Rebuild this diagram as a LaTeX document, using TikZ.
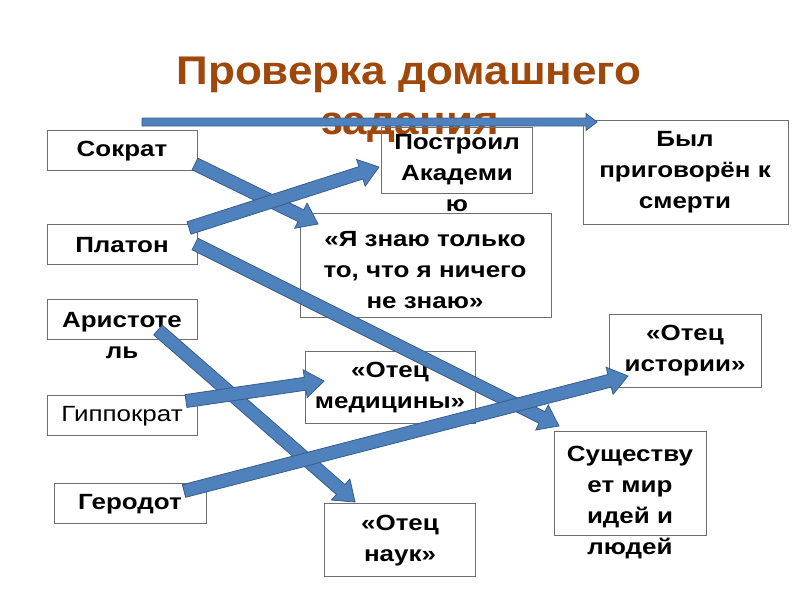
\documentclass[tikz,border=0pt]{standalone}
\usepackage{fontspec}
\setmainfont{Liberation Sans}
\newfontfamily\boxfont[FakeStretch=1.18]{Liberation Sans}
\newfontfamily\titlefont[FakeStretch=1.1]{Liberation Sans}
\usetikzlibrary{calc}
\definecolor{arrowfill}{RGB}{79,129,189}
\definecolor{arrowline}{RGB}{56,93,138}
\definecolor{titlec}{RGB}{160,72,12}
\definecolor{boxgray}{RGB}{110,110,110}
\newcommand\blockarrow[5]{%
  \path let \p1=(#1), \p2=(#2) in \pgfextra{%
    \pgfmathsetmacro\tmpang{atan2(\y2-\y1,\x2-\x1)}%
    \pgfmathsetmacro\tmplen{veclen(\x2-\x1,\y2-\y1)}%
    \xdef\BAang{\tmpang}\xdef\BAlen{\tmplen}};
  \begin{scope}[shift={(#1)},rotate=\BAang]
    \draw[barrow] (0,-#3) -- (\BAlen-#5,-#3) -- (\BAlen-#5,-#4) -- (\BAlen,0)
      -- (\BAlen-#5,#4) -- (\BAlen-#5,#3) -- (0,#3) -- cycle;
  \end{scope}}
\begin{document}
\begin{tikzpicture}[x=1pt,y=-1pt,
  barrow/.style={fill=arrowfill,draw=arrowline,line width=0.8pt,line join=miter},
  box/.style={draw=boxgray,line width=0.8pt,rectangle,inner sep=0pt},
  txt/.style={font=\boxfont\bfseries\fontsize{22}{31}\selectfont,align=center,inner sep=0pt},
  ttl/.style={font=\titlefont\bfseries\fontsize{40}{53}\selectfont,text=titlec,inner sep=0pt}]
\useasboundingbox (0,0) rectangle (800,600);
\fill[white] (0,0) rectangle (800,600);
% title
\node[ttl] (title1) at (409,75) {Проверка домашнего};
\node[ttl] (title2) at (410,128) {задания};
% boxes
\node[box,minimum width=150pt,minimum height=40pt] (sokrat) at (122,150) {};
\node[box,minimum width=150pt,minimum height=40pt] (platon) at (122,244) {};
\node[box,minimum width=150pt,minimum height=40pt] (arist) at (122,319) {};
\node[box,minimum width=150pt,minimum height=40pt] (gippo) at (122,415) {};
\node[box,minimum width=152pt,minimum height=40pt] (gerod) at (130,503) {};
\node[box,minimum width=151pt,minimum height=66pt] (postr) at (456.5,160) {};
\node[box,minimum width=205pt,minimum height=104pt] (byl) at (685.5,172) {};
\node[box,minimum width=251pt,minimum height=104pt] (znayu) at (425.5,265) {};
\node[box,minimum width=170pt,minimum height=72pt] (med) at (390,387) {};
\node[box,minimum width=151pt,minimum height=73pt] (nauk) at (399.5,539.5) {};
\node[box,minimum width=152pt,minimum height=73pt] (ist) at (685,350.5) {};
\node[box,minimum width=152pt,minimum height=104pt] (sush) at (630,483) {};
% texts
\node[txt] (sokratT) at (122,151) {Сократ};
\node[txt] (platonT) at (122,245) {Платон};
\node[txt] (aristT) at (122,336) {Аристоте\\ль};
\node[txt,font=\boxfont\fontsize{22}{31}\selectfont] (gippoT) at (122,416) {Гиппократ};
\node[txt] (gerodT) at (130,504) {Геродот};
\node[txt] (postrT) at (457,173) {Построил\\Академи\\ю};
\node[txt] (bylT) at (685,172) {Был\\приговорён к\\смерти};
\node[txt] (znayuT) at (425,270) {«Я знаю только\\то, что я ничего\\не знаю»};
\node[txt] (medT) at (390,388) {«Отец\\медицины»};
\node[txt] (naukT) at (400,541) {«Отец\\наук»};
\node[txt] (istT) at (685,351) {«Отец\\истории»};
\node[txt] (sushT) at (630,503) {Существу\\ет мир\\идей и\\людей};
% arrow end points
\coordinate (t0) at (142,122);
\coordinate (t1) at (597,122);
\coordinate (s0) at (195,164);
\coordinate (s1) at (318,224);
\coordinate (p0) at (189,228);
\coordinate (p1) at (379,167);
\coordinate (q0) at (195,244);
\coordinate (q1) at (559,426);
\coordinate (a0) at (158,330);
\coordinate (a1) at (355,502);
\coordinate (g0) at (186,401);
\coordinate (g1) at (324,381);
\coordinate (h0) at (184,491);
\coordinate (h1) at (628,376);
% arrows
\blockarrow{t0}{t1}{4}{8.5}{11}
\blockarrow{s0}{s1}{6.5}{14}{19}
\blockarrow{p0}{p1}{6.5}{14}{19}
\blockarrow{q0}{q1}{6.5}{14}{19}
\blockarrow{a0}{a1}{6.5}{14}{19}
\blockarrow{g0}{g1}{6.5}{14}{19}
\blockarrow{h0}{h1}{6.5}{14}{19}
\end{tikzpicture}
\end{document}
